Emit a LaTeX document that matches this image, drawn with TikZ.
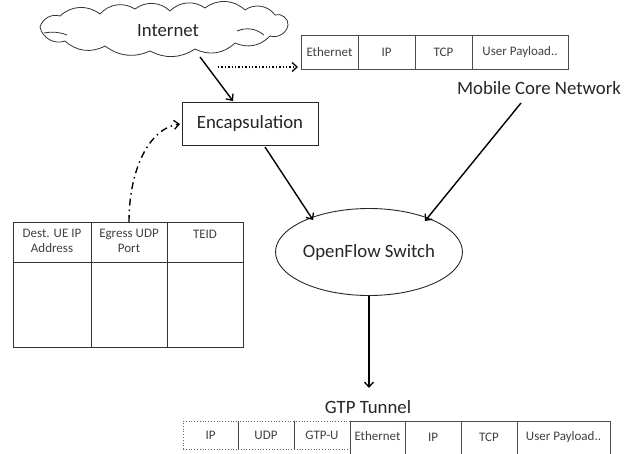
\documentclass[tikz,border=0pt]{standalone}
\usepackage{fontspec}
\setmainfont{Carlito}
\usetikzlibrary{shapes.symbols,shapes.geometric,arrows.meta,calc}
\begin{document}
\begin{tikzpicture}[x=1pt,y=-1pt,
  big/.style={font=\fontsize{18.8}{20}\selectfont, text=black!85},
  small/.style={font=\fontsize{13}{14.5}\selectfont, text=black!75},
  cell/.style={draw=black!70, line width=0.7pt, small, inner sep=0pt, minimum height=34pt, anchor=center},
  arr/.style={line width=1.4pt, -{Straight Barb[length=5pt,width=9pt,line width=1.3pt]}},
  tline/.style={draw=black!80, line width=0.8pt},
  cloudline/.style={draw=black!80, line width=0.8pt, line join=round}
]
\useasboundingbox (0,0) rectangle (632,453);

% cloud (drawn directly)
\draw[cloudline]
  (40,27) to[bend left=45] (60,16)
  to[bend left=40] (100,14)
  to[bend left=40] (135,9)
  to[bend left=40] (170,11)
  to[bend left=40] (205,8)
  to[bend left=40] (245,10)
  to[bend left=45] (275,15)
  to[bend left=60] (288,25)
  to[bend left=50] (270,36)
  to[bend left=35] (235,43)
  to[bend left=35] (195,49)
  to[bend left=30] (150,51)
  to[bend left=30] (105,46)
  to[bend left=35] (65,41)
  to[bend left=50] cycle;
\draw[cloudline] (44,33) to[bend left=15] (67,35);
\draw[cloudline] (237,31) to[bend left=30] (264,35);
\coordinate (inetc) at (163,29);
\node[big] (inet) at (168,31) {Internet};

% encapsulation
\node[draw=black!85, line width=0.9pt, big, minimum width=136pt, minimum height=43pt, inner sep=0pt] (enc) at (250,123.5) {Encapsulation};

% top packet
\node[cell, minimum width=57pt] (p1) at (329.5,52) {Ethernet};
\node[cell, minimum width=57pt] (p2) at (386.5,52) {IP};
\node[cell, minimum width=57pt] (p3) at (443.5,52) {TCP};
\node[cell, minimum width=96pt] (p4) at (520,52) {User Payload..};

% mobile core network
\node[big] (mcn) at (539,88) {Mobile Core Network};

% openflow switch
\node[ellipse, draw=black!85, line width=0.9pt, big, minimum width=158pt, minimum height=87pt, inner sep=0pt] (ofs) at (369,252) {OpenFlow Switch};

% GTP tunnel
\node[big] (gtp) at (368,407) {GTP Tunnel};

% bottom packet: dotted part
\node[draw=black!60, dotted, line width=0.8pt, small, minimum width=55pt, minimum height=28pt, inner sep=0pt] (b1) at (210.5,435) {IP};
\node[draw=black!60, dotted, line width=0.8pt, small, minimum width=56pt, minimum height=28pt, inner sep=0pt] (b2) at (266,435) {UDP};
\node[draw=black!60, dotted, line width=0.8pt, small, minimum width=56pt, minimum height=28pt, inner sep=0pt] (b3) at (322,435) {GTP-U};
\draw[black!75, line width=0.8pt] (b1.north east) -- (b1.south east) (b2.north east) -- (b2.south east);
% bottom packet: solid part
\node[cell, minimum width=55pt, minimum height=36pt] (b4) at (377.5,439) {};
\node[cell, minimum width=56pt, minimum height=36pt] (b5) at (433,439) {};
\node[cell, minimum width=56pt, minimum height=36pt] (b6) at (489,439) {};
\node[cell, minimum width=93pt, minimum height=36pt] (b7) at (563.5,439) {};
\node[small] (t4) at (377.5,436) {Ethernet};
\node[small] (t5) at (433,437) {IP};
\node[small] (t6) at (489,437) {TCP};
\node[small] (t7) at (563.5,437) {User Payload..};

% table
\draw[tline] (13,222) rectangle (243,347);
\draw[tline] (13,262) -- (243,262);
\draw[tline] (91,222) -- (91,347);
\draw[tline] (167,222) -- (167,347);
\node[small, align=center] (h1) at (52,241) {Dest. UE IP\\Address};
\node[small, align=center] (h2) at (129,241) {Egress UDP\\Port};
\node[small] (h3) at (205,234) {TEID};
\coordinate (tabtop) at (129,222);

% connectors
\coordinate (c1) at (200,57);
\coordinate (c2) at (233,101);
\draw[arr] (c1) -- (c2);

\coordinate (d1) at (218,67);
\coordinate (d2) at (298,67);
\draw[line width=1.4pt, dotted, -{Straight Barb[length=5pt,width=9pt,line width=1.3pt]}] (d1) -- (d2);

\coordinate (e1) at (265,147);
\coordinate (e2) at (313,220);
\draw[arr] (e1) -- (e2);

\coordinate (m1) at (521,103);
\coordinate (m2) at (425,221);
\draw[arr] (m1) -- (m2);

\coordinate (o1) at (369,296);
\coordinate (o2) at (369,388);
\draw[arr] (o1) -- (o2);

\coordinate (encl) at (180,124);
\draw[line width=1.4pt, dash pattern=on 7pt off 4pt on 1.5pt off 4pt, -{Straight Barb[length=5pt,width=9pt,line width=1.3pt]}]
  (tabtop) .. controls (129,168) and (150,128) .. (encl);
\end{tikzpicture}
\end{document}
